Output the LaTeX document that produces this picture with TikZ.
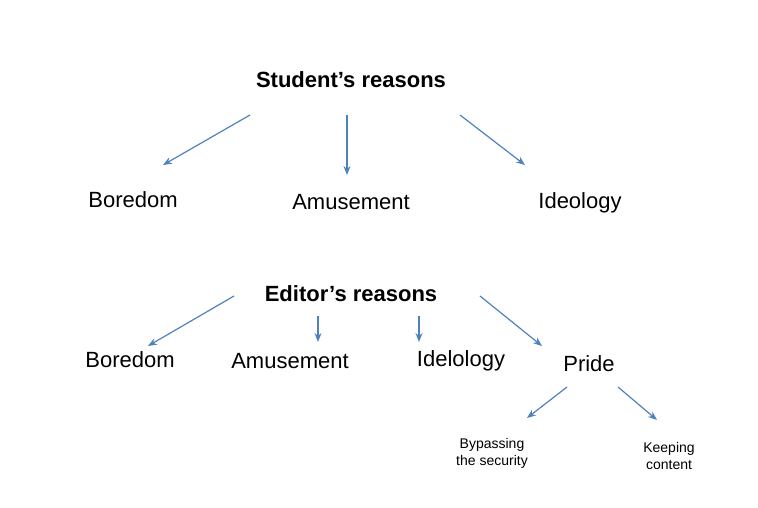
\documentclass[tikz,border=0pt]{standalone}
\usepackage{fontspec}
\setmainfont{Liberation Sans}
\usetikzlibrary{arrows.meta}
\definecolor{arr}{RGB}{79,129,189}
\begin{document}
\begin{tikzpicture}[x=1pt,y=-1pt,
  big/.style={font=\fontsize{22}{26}\selectfont,inner sep=0pt},
  hdr/.style={font=\bfseries\fontsize{22}{26}\selectfont,inner sep=0pt},
  small/.style={font=\fontsize{14}{17}\selectfont,inner sep=0pt,align=center},
  conn/.style={draw=arr,line width=1.2pt,-{Stealth[length=9pt,width=7pt]}}]
\useasboundingbox (0,0) rectangle (758,508);
\node[hdr] (s) at (351,80) {Student’s reasons};
\node[big] (b1) at (133,200) {Boredom};
\node[big] (a1) at (351,202) {Amusement};
\node[big] (i1) at (580,203) {Ideology};
\node[hdr] (e) at (351,294) {Editor’s reasons};
\node[big] (b2) at (130,360) {Boredom};
\node[big] (a2) at (290,361) {Amusement};
\node[big] (i2) at (461,361) {Idelology};
\node[big] (p) at (589,364) {Pride};
\node[small] (by) at (492,453) {Bypassing\\the security};
\node[small] (kc) at (669,456) {Keeping\\content};
\foreach \n/\x/\y in {s1/250/115,s2/347/115,s3/460/115,t1/163/165,t2/347/175,t3/525/165,
  e1/234/296,e2/318/316,e3/419/316,e4/480/296,f1/148/346,f2/318/342,f3/419/342,f4/542/346,
  p1/567/387,p2/618/387,q1/527/418,q2/657/420}
  \coordinate (\n) at (\x,\y);
\draw[conn] (s1) -- (t1);
\draw[conn] (s2) -- (t2);
\draw[conn] (s3) -- (t3);
\draw[conn] (e1) -- (f1);
\draw[conn] (e2) -- (f2);
\draw[conn] (e3) -- (f3);
\draw[conn] (e4) -- (f4);
\draw[conn] (p1) -- (q1);
\draw[conn] (p2) -- (q2);
\end{tikzpicture}
\end{document}
